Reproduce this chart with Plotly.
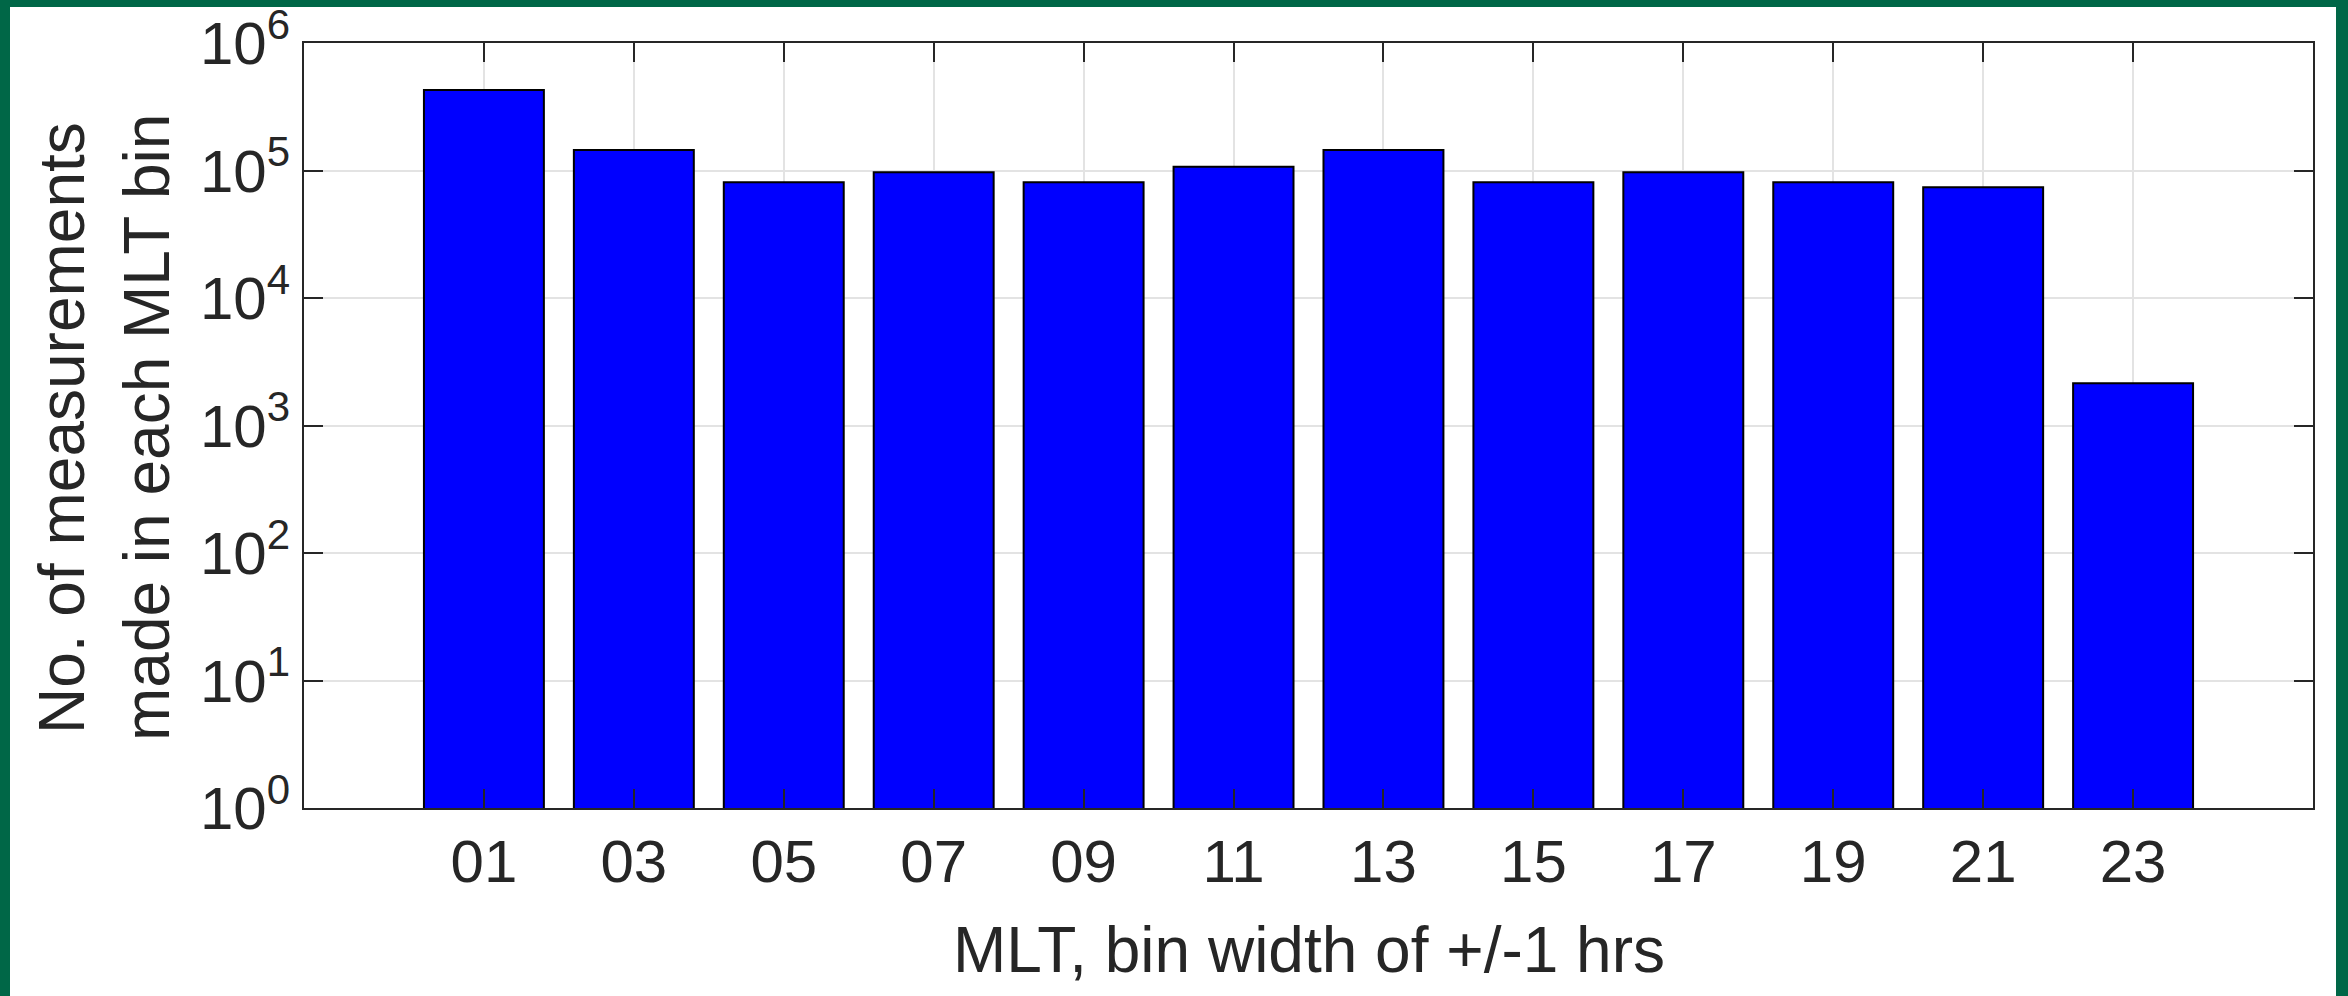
import plotly.graph_objects as go

# ---- data ----
mlt_bins = ["01", "03", "05", "07", "09", "11", "13", "15", "17", "19", "21", "23"]
counts = [4.28e5, 1.45e5, 8.1e4, 9.7e4, 8.1e4, 1.07e5, 1.45e5, 8.1e4, 9.7e4, 8.1e4, 7.4e4, 2.14e3]
y_tick_vals = [1, 10, 100, 1e3, 1e4, 1e5, 1e6]
y_tick_text = ["10<sup>0</sup>", "10<sup>1</sup>", "10<sup>2</sup>", "10<sup>3</sup>",
               "10<sup>4</sup>", "10<sup>5</sup>", "10<sup>6</sup>"]
x_title = "MLT, bin width of +/-1 hrs"
y_title_lines = ["No. of measurements", "made in each MLT bin"]

# ---- layout geometry (pixels) ----
W, H = 2348, 996
L, R, T, B = 304, 2313, 43, 808

def px(x):
    return (x - L) / (R - L)

def py(y):
    return (B - y) / (B - T)

TXT = "#262626"
FONT = "Liberation Sans, Arial, Helvetica, sans-serif"

fig = go.Figure()
fig.add_trace(go.Bar(
    x=mlt_bins, y=counts, width=0.8,
    marker=dict(color="#0000FF", line=dict(color="#000000", width=2)),
))

fig.update_layout(
    width=W, height=H,
    margin=dict(l=L, r=W - R, t=T, b=H - B, pad=0, autoexpand=False),
    paper_bgcolor="#006747",
    plot_bgcolor="#FFFFFF",
    showlegend=False,
    font=dict(family=FONT, color=TXT),
    shapes=[dict(type="rect", xref="paper", yref="paper",
                 x0=px(10), x1=px(2336), y0=py(1005), y1=py(7),
                 fillcolor="#FFFFFF", line=dict(width=0), layer="below")],
    annotations=[
        dict(text=y_title_lines[0], xref="paper", yref="paper", x=px(62), y=py(428),
             xanchor="center", yanchor="middle", textangle=-90, showarrow=False,
             font=dict(size=64, color=TXT, family=FONT)),
        dict(text=y_title_lines[1], xref="paper", yref="paper", x=px(147), y=py(428),
             xanchor="center", yanchor="middle", textangle=-90, showarrow=False,
             font=dict(size=64, color=TXT, family=FONT)),
        dict(text=x_title, xref="paper", yref="paper", x=px(1309), y=py(950),
             xanchor="center", yanchor="middle", showarrow=False,
             font=dict(size=64, color=TXT, family=FONT)),
    ],
)

fig.update_xaxes(
    type="category", range=[-1.2, 12.2], automargin=False,
    showline=True, linecolor=TXT, linewidth=2, mirror="ticks",
    ticks="inside", ticklen=19, tickwidth=2, tickcolor=TXT,
    showgrid=True, gridcolor="#E3E3E3", gridwidth=2,
    tickfont=dict(size=60, color=TXT, family=FONT),
    zeroline=False,
)
fig.update_yaxes(
    type="log", range=[0, 6], automargin=False,
    tickvals=y_tick_vals, ticktext=y_tick_text,
    showline=True, linecolor=TXT, linewidth=2, mirror="ticks",
    ticks="inside", ticklen=19, tickwidth=2, tickcolor=TXT,
    showgrid=True, gridcolor="#E3E3E3", gridwidth=2,
    tickfont=dict(size=60, color=TXT, family=FONT),
    zeroline=False,
)

fig.write_html("out.html")
